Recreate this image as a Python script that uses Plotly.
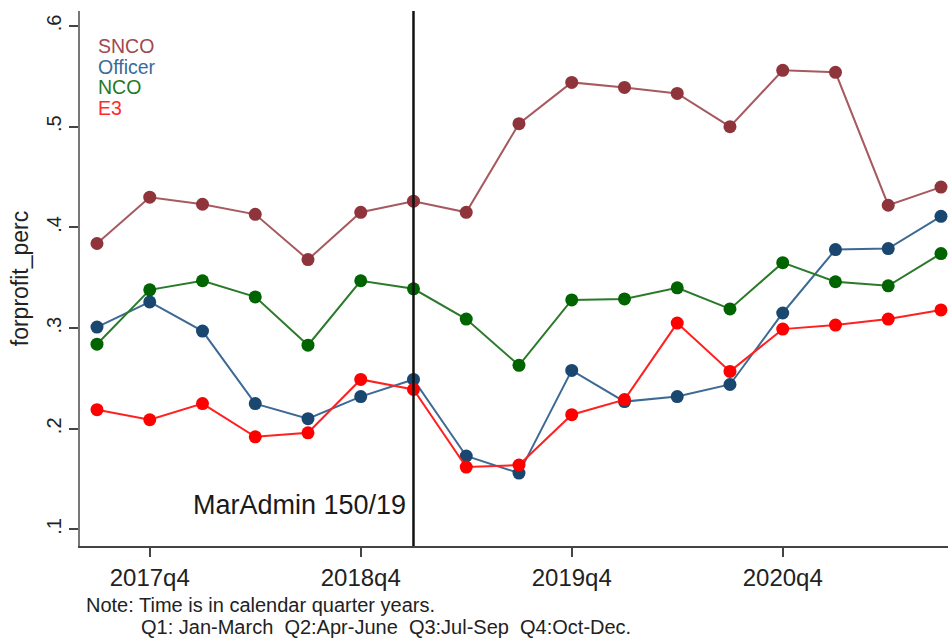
import plotly.graph_objects as go

# Calendar quarters 2017q3 .. 2021q3
quarters = ["2017q3", "2017q4", "2018q1", "2018q2", "2018q3", "2018q4", "2019q1",
            "2019q2", "2019q3", "2019q4", "2020q1", "2020q2", "2020q3", "2020q4",
            "2021q1", "2021q2", "2021q3"]

snco = [0.384, 0.430, 0.423, 0.413, 0.368, 0.415, 0.426, 0.415, 0.503, 0.544,
        0.539, 0.533, 0.500, 0.556, 0.554, 0.422, 0.440]
officer = [0.301, 0.326, 0.297, 0.225, 0.210, 0.232, 0.249, 0.173, 0.156, 0.258,
           0.227, 0.232, 0.244, 0.315, 0.378, 0.379, 0.411]
nco = [0.284, 0.338, 0.347, 0.331, 0.283, 0.347, 0.339, 0.309, 0.263, 0.328,
       0.329, 0.340, 0.319, 0.365, 0.346, 0.342, 0.374]
e3 = [0.219, 0.209, 0.225, 0.192, 0.196, 0.249, 0.239, 0.162, 0.164, 0.214,
      0.229, 0.305, 0.257, 0.299, 0.303, 0.309, 0.318]

series_names = ["SNCO", "Officer", "NCO", "E3"]
series_values = [snco, officer, nco, e3]
marker_colors = ["#8f343b", "#1a476f", "#006400", "#ff0000"]
line_colors = ["#a65a5f", "#3d6a95", "#2a7a2a", "#ff2020"]
label_colors = ["#a0494f", "#3a6c9a", "#1f7a1f", "#ff2a2a"]

tick_labels = ["2017q4", "2018q4", "2019q4", "2020q4"]
tick_pos = [quarters.index(t) for t in tick_labels]
y_ticks = [0.1, 0.2, 0.3, 0.4, 0.5, 0.6]
y_tick_text = [".1", ".2", ".3", ".4", ".5", ".6"]
policy_quarter = "2019q1"
policy_label = "MarAdmin 150/19"
note_lines = ["Note: Time is in calendar quarter years.",
              "Q1: Jan-March  Q2:Apr-June  Q3:Jul-Sep  Q4:Oct-Dec."]

FONT = "Liberation Sans, Arial, sans-serif"
W, H = 948, 638
ML, MR, MT, MB = 80, 0, 11, 92
PW, PH = W - ML - MR, H - MT - MB


def px_to_paper(px, py):
    """Convert page pixel coordinates to paper coordinates of the plot area."""
    return (px - ML) / PW, (H - MB - py) / PH


x_idx = list(range(len(quarters)))

fig = go.Figure()
for name, vals, mc, lc in zip(series_names, series_values, marker_colors, line_colors):
    fig.add_trace(go.Scatter(
        x=x_idx, y=vals, mode="lines+markers", name=name,
        line=dict(color=lc, width=2),
        marker=dict(color=mc, size=13),
        showlegend=False,
    ))

# Series labels stacked in the upper-left corner
for i, (name, lc) in enumerate(zip(series_names, label_colors)):
    xp, yp = px_to_paper(96, 46 + 20.5 * i)
    fig.add_annotation(
        x=xp, y=yp, xref="paper", yref="paper", xanchor="left", yanchor="middle",
        text=name, showarrow=False,
        font=dict(family=FONT, size=19.5, color=lc),
    )

# Policy change marker
pq = quarters.index(policy_quarter)
fig.add_shape(type="line", x0=pq, x1=pq, y0=0, y1=1, xref="x", yref="paper",
              line=dict(color="#111111", width=2.5))
_, yp = px_to_paper(0, 505)
fig.add_annotation(x=pq, y=yp, xref="x", yref="paper", xanchor="right",
                   xshift=-5, yanchor="middle", text=policy_label,
                   showarrow=False, font=dict(family=FONT, size=27, color="#1a1a1a"))

# Footnote below the axis
for (lx, ly), line in zip([(84, 605), (139, 627)], note_lines):
    xp, yp = px_to_paper(lx, ly)
    fig.add_annotation(x=xp, y=yp, xref="paper", yref="paper", showarrow=False,
                       xanchor="left", yanchor="middle", text=line,
                       font=dict(family=FONT, size=20, color="#222222"))

fig.update_layout(
    width=W, height=H,
    margin=dict(l=ML, r=MR, t=MT, b=MB),
    paper_bgcolor="white", plot_bgcolor="white",
    font=dict(family=FONT, color="#222222"),
)

fig.update_xaxes(
    range=[-0.322, 16.133], tickmode="array", tickvals=tick_pos, ticktext=tick_labels,
    showgrid=False, zeroline=False, showline=True, linecolor="#444444", linewidth=2,
    ticks="outside", ticklen=9, tickwidth=1.5, tickcolor="#444444",
    tickfont=dict(family=FONT, size=24, color="#222222"),
)
fig.update_yaxes(
    range=[0.0836, 0.6149], tickmode="array", tickvals=y_ticks, ticktext=y_tick_text,
    tickangle=-90, showgrid=False, zeroline=False, showline=True,
    linecolor="#777777", linewidth=2,
    ticks="outside", ticklen=9, tickwidth=1.5, tickcolor="#444444",
    tickfont=dict(family=FONT, size=20, color="#222222"),
    title=dict(text="forprofit_perc", font=dict(family=FONT, size=23, color="#222222"),
               standoff=8),
)

fig.write_html("out.html")
